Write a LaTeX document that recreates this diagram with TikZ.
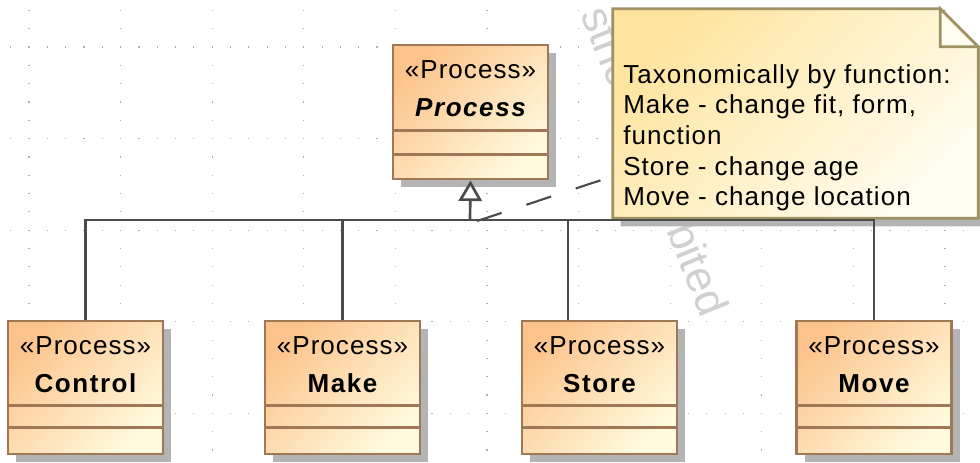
\documentclass[tikz,border=0pt]{standalone}
\usepackage{fontspec}
\setmainfont{Liberation Sans}
\newfontfamily\notefont[LetterSpace=4]{Liberation Sans}
\newfontfamily\boxfont[LetterSpace=4]{Liberation Sans}
\newfontfamily\boxboldfont[LetterSpace=6]{Liberation Sans}
\usetikzlibrary{arrows.meta,shadows}
\definecolor{boxA}{RGB}{252,196,140}
\definecolor{boxB}{RGB}{255,250,222}
\definecolor{boxline}{RGB}{160,120,85}
\definecolor{noteA}{RGB}{255,228,160}
\definecolor{noteB}{RGB}{255,253,240}
\definecolor{noteline}{RGB}{160,145,100}
\definecolor{connc}{RGB}{75,75,75}
\definecolor{shadowgray}{RGB}{180,180,180}
\definecolor{griddot}{RGB}{175,175,175}
\definecolor{wmgray}{RGB}{208,208,208}
\tikzset{
  classbox/.style={draw=boxline, line width=2pt, left color=boxA, right color=boxB,
    shading angle=45, minimum width=116.25pt, minimum height=99.75pt, inner sep=0pt,
    drop shadow={shadow xshift=6pt, shadow yshift=-6pt, fill=shadowgray, opacity=1}},
  stereo/.style={inner sep=0pt, font=\boxfont\fontsize{19.5pt}{23pt}\selectfont},
  cname/.style={inner sep=0pt, font=\boxboldfont\fontsize{19.5pt}{23pt}\selectfont\bfseries},
  comp/.style={draw=boxline, line width=2pt},
  connline/.style={draw=connc, line width=2pt},
  anchorline/.style={draw=connc, line width=1.6pt, dash pattern=on 19.5pt off 19.5pt},
  notebox/.style={minimum width=273.75pt, minimum height=156.75pt, inner sep=0pt},
  notetext/.style={inner sep=0pt, align=left, font=\notefont\fontsize{19.5pt}{23pt}\selectfont},
  wm/.style={inner sep=0pt, text=wmgray, font=\fontsize{33pt}{36pt}\selectfont}
}
\begin{document}
\begin{tikzpicture}[x=0.75pt,y=-0.75pt]
\useasboundingbox (0,0) rectangle (980,462);
% background grid dots
\foreach \k in {0,...,10} {
  \foreach \j in {-2,...,22} {
    \fill[griddot] ({29+91.6*\k-0.6},{47+18.32*\j-0.6}) rectangle +(1.2,1.2);
  }
}
\foreach \m in {0,...,4} {
  \foreach \i in {-1,...,52} {
    \fill[griddot] ({29+18.32*\i-0.6},{47+91.6*\m-0.6}) rectangle +(1.2,1.2);
  }
}
% watermark (visible parts)
\node[wm, anchor=base west, rotate=-68] (wmtop) at (580,14) {stric};
\node[wm, anchor=base west, rotate=-68] (wmbot) at (666,230) {bited};
% note
\node[notebox] (note) at (795.5,113.5) {};
\fill[shadowgray] ([xshift=6pt,yshift=-6pt]note.north west) -- ([xshift=-22.5pt,yshift=-6pt]note.north east)
  -- ([xshift=6pt,yshift=-34.5pt]note.north east) -- ([xshift=6pt,yshift=-6pt]note.south east)
  -- ([xshift=6pt,yshift=-6pt]note.south west) -- cycle;
\shade[left color=noteA, right color=noteB, shading angle=45]
  (note.north west) -- ([xshift=-28.5pt]note.north east) -- ([yshift=-28.5pt]note.north east)
  -- (note.south east) -- (note.south west) -- cycle;
\draw[draw=noteline, line width=2pt]
  (note.north west) -- ([xshift=-28.5pt]note.north east) -- ([yshift=-28.5pt]note.north east)
  -- (note.south east) -- (note.south west) -- cycle;
\draw[draw=noteline, line width=2pt, fill=noteB]
  ([xshift=-28.5pt]note.north east) -- ([xshift=-28.5pt,yshift=-28.5pt]note.north east)
  -- ([yshift=-28.5pt]note.north east) -- cycle;
\node[notetext, anchor=north west] (notetxt) at (623,64)
  {Taxonomically by function:\\Make - change fit, form,\\function\\Store - change age\\Move - change location};
% classes
\node[classbox, minimum height=100.5pt] (proc) at (470.5,112) {};
\node[stereo] (procst) at ([yshift=-19.5pt]proc.north) {«Process»};
\node[cname] (procnm) at ([yshift=-48pt]proc.north) {\itshape Process};
\draw[comp] ([yshift=-65.25pt]proc.north west) -- ([yshift=-65.25pt]proc.north east);
\draw[comp] ([yshift=-83.25pt]proc.north west) -- ([yshift=-83.25pt]proc.north east);
\foreach \nm/\cx/\lbl in {ctl/85.5/Control, mak/342.5/Make, sto/599.5/Store, mov/874/Move} {
  \node[classbox] (\nm) at (\cx,387.5) {};
  \node[stereo] (\nm st) at ([yshift=-19.5pt]\nm.north) {«Process»};
  \node[cname] (\nm nm) at ([yshift=-48pt]\nm.north) {\lbl};
  \draw[comp] ([yshift=-64.5pt]\nm.north west) -- ([yshift=-64.5pt]\nm.north east);
  \draw[comp] ([yshift=-81pt]\nm.north west) -- ([yshift=-81pt]\nm.north east);
}
% generalization tree
\coordinate (gj) at (470,220);
\coordinate (ga) at (477,221);
\coordinate (stostem) at ([xshift=-23.6pt]sto.north);
\draw[connline] (ctl.north) |- (mov.north |- gj) -- (mov.north);
\draw[connline] (mak.north) -- (mak.north |- gj);
\draw[connline] (stostem) -- (stostem |- gj);
\draw[connline, -{Triangle[length=15.5pt, width=17.5pt, fill=white]}] (gj) -- (proc.south);
% note anchor
\draw[anchorline] (ga) -- ([yshift=31.5pt]note.south west);
\end{tikzpicture}
\end{document}
